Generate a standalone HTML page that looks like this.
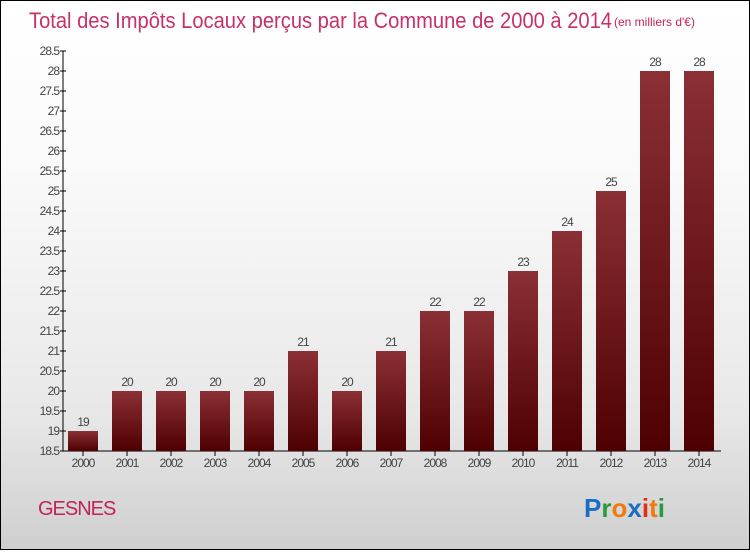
<!DOCTYPE html>
<html><head><meta charset="utf-8"><style>
body{margin:0;width:750px;height:550px;overflow:hidden;font-family:"Liberation Sans",sans-serif}
#wrap{position:absolute;left:0;top:0;width:748px;height:548px;border:1px solid #000;background:linear-gradient(#fff,#fafafa 30%,#e8e8e8 75%,#cfcfcf)}
</style></head><body>
<div id="wrap">
<svg width="750" height="550">
<defs><linearGradient id="bg" x1="0" y1="0" x2="0" y2="1"><stop offset="0" stop-color="#8b3035"/><stop offset="1" stop-color="#4e0000"/></linearGradient></defs>
<text x="28" y="27" font-size="22" fill="#c8306a" textLength="583" lengthAdjust="spacingAndGlyphs">Total des Impôts Locaux perçus par la Commune de 2000 à 2014</text>
<text x="613" y="25" font-size="12" fill="#c0245a">(en milliers d'€)</text>
<g id="axes"></g><g id="bars"></g>
<text x="37" y="514" font-size="20" fill="#c0245a" letter-spacing="-1">GESNES</text>
<text x="583" y="516" font-size="26" font-weight="bold"><tspan fill="#1a6fc4">P</tspan><tspan fill="#2a9a3a">r</tspan><tspan fill="#f07a10">o</tspan><tspan fill="#1a6fc4">x</tspan><tspan fill="#e03010">i</tspan><tspan fill="#f07a10">t</tspan><tspan fill="#2a9a3a">i</tspan></text>
</svg></div>
<script>
const years=["2000","2001","2002","2003","2004","2005","2006","2007","2008","2009","2010","2011","2012","2013","2014"];
const values=[19,20,20,20,20,21,20,21,22,22,23,24,25,28,28];
const ticks=[18.5,19,19.5,20,20.5,21,21.5,22,22.5,23,23.5,24,24.5,25,25.5,26,26.5,27,27.5,28,28.5];
const NS="http://www.w3.org/2000/svg";
const y=v=>450-(v-18.5)*40, x=i=>82+i*44;
const ax=document.getElementById('axes'), bs=document.getElementById('bars');
function mk(t,a,p){const e=document.createElementNS(NS,t);for(const k in a)e.setAttribute(k,a[k]);p.appendChild(e);return e;}
let l=mk('line',{x1:62,y1:50,x2:62,y2:450,stroke:'#000'},ax);


l=mk('line',{x1:62,y1:450,x2:720,y2:450,stroke:'#000'},ax);


ticks.forEach(t=>{mk('line',{x1:59,x2:65,y1:y(t),y2:y(t),stroke:'#000'},ax);
const e=mk('text',{x:58,y:y(t)+4,'font-size':12,fill:'#444','text-anchor':'end','letter-spacing':'-1'},ax);e.textContent=t;

});
years.forEach((yr,i)=>{const v=values[i];
const r=mk('rect',{x:x(i)-15,y:y(v),width:30,height:450-y(v),fill:'url(#bg)'},bs);


mk('line',{x1:x(i),x2:x(i),y1:450,y2:455,stroke:'#000'},ax);
const t=mk('text',{x:x(i),y:466,'font-size':12,fill:'#444','text-anchor':'middle','letter-spacing':'-1'},ax);t.textContent=yr;


const vl=mk('text',{x:x(i),y:y(v)-5,'font-size':12,fill:'#444','text-anchor':'middle','letter-spacing':'-1'},bs);vl.textContent=v;

});
</script>
</body></html>
